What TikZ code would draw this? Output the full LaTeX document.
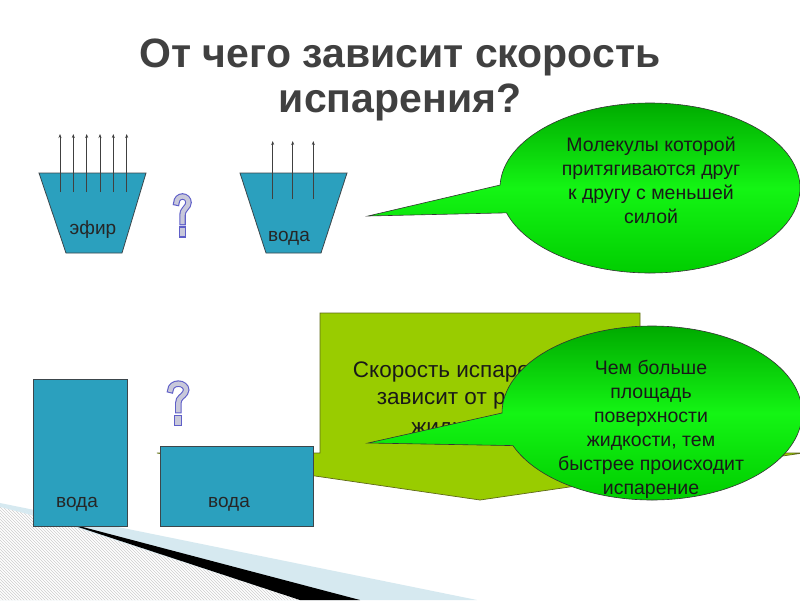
\documentclass[tikz,border=0pt]{standalone}
\usepackage{fontspec}
\setmainfont{Liberation Sans}
\usetikzlibrary{arrows.meta,patterns,calc}
\definecolor{water}{RGB}{43,160,190}
\definecolor{edge}{RGB}{60,70,75}
\definecolor{olivefill}{RGB}{153,204,0}
\definecolor{oliveedge}{RGB}{95,105,25}
\definecolor{gtop}{RGB}{0,170,0}
\definecolor{gmid}{RGB}{20,245,20}
\definecolor{gbot}{RGB}{0,205,0}
\definecolor{titlegray}{RGB}{64,64,64}
\definecolor{qgray}{RGB}{200,200,218}
\definecolor{qblue}{RGB}{95,95,200}
\definecolor{band}{RGB}{214,233,240}
\definecolor{hatchgray}{RGB}{205,205,205}
\tikzset{
  vessel/.style={fill=water, draw=edge, line width=0.8pt},
  vapor/.style={draw=black!75, line width=0.7pt, -{Stealth[length=4pt,width=3pt]}},
  vlabel/.style={font=\fontsize{19}{22}\selectfont, text=black!85},
  bubble/.style={top color=gtop, bottom color=gbot, middle color=gmid, draw=black!80, line width=0.6pt},
  bubbletext/.style={align=center, font=\fontsize{19.5}{24}\selectfont, text=black!90},
  titletext/.style={font=\fontsize{41}{46}\bfseries\selectfont, text=titlegray, anchor=base},
  speedtext/.style={font=\fontsize{22.5}{26}\selectfont, text=black!90, anchor=base},
  qmark/.pic={
    \draw[qblue, line width=6.5pt, line cap=rect]
      (3.5,-9.5) arc[start angle=180, end angle=-30, radius=6pt]
      .. controls (13,-16) and (9.5,-17) .. (9.5,-22) -- (9.5,-29);
    \draw[qgray, line width=4.3pt, line cap=rect]
      (3.5,-9.5) arc[start angle=180, end angle=-30, radius=6pt]
      .. controls (13,-16) and (9.5,-17) .. (9.5,-22) -- (9.5,-29);
    \filldraw[fill=qgray, draw=qblue, line width=1.1pt] (6.8,-34) rectangle (12.2,-44);
  }
}
\begin{document}
\begin{tikzpicture}[x=1pt,y=1pt]
\useasboundingbox (0,0) rectangle (800,-600);
\clip (0,0) rectangle (800,-600);
\fill[white] (0,0) rectangle (800,-600);

% decoration bottom-left
\fill[band] (0,-503) -- (477,-600) -- (0,-600) -- cycle;
\fill[white] (0,-507) -- (62,-523) -- (300,-600) -- (0,-600) -- cycle;
\fill[pattern=north west lines, pattern color=hatchgray] (0,-507) -- (62,-523) -- (300,-600) -- (0,-600) -- cycle;
\fill[black] (60,-521) -- (360,-600) -- (300,-600) -- cycle;

% title
\node[titletext] (title1) at (400,-67) {От чего зависит скорость};
\node[titletext] (title2) at (400,-112) {испарения?};

% ether vessel
\draw[vessel] (39,-173) -- (146,-173) -- (122,-253) -- (66,-253) -- cycle;
\foreach \x [count=\i] in {60,73.3,86.7,100,113.3,126.7} {
  \coordinate (eb\i) at (\x,-192);
  \coordinate (et\i) at (\x,-134);
  \draw[vapor] (eb\i) -- (et\i);
}
\node[vlabel] (ether) at (93,-230) {эфир};

% water vessel
\draw[vessel] (240,-173) -- (347,-173) -- (321,-253) -- (266,-253) -- cycle;
\foreach \x [count=\i] in {272.7,292.7,313.3} {
  \coordinate (wb\i) at (\x,-199);
  \coordinate (wt\i) at (\x,-141);
  \draw[vapor] (wb\i) -- (wt\i);
}
\node[vlabel] (water1) at (289,-238) {вода};

% question mark 1
\pic at (173,-193) {qmark};

% top callout
\coordinate (tc) at (650,-188);
\coordinate (ttip) at (368,-216);
\path[bubble] (ttip) -- ($(tc)+(178:150 and 85)$)
  arc[start angle=178, end angle=-163, x radius=150pt, y radius=85pt] -- cycle;
\node[bubbletext] (bubble1) at (651,-180) {Молекулы которой\\притягиваются друг\\к другу с меньшей\\силой};

% yellow-green arrow callout
\path[fill=olivefill, draw=oliveedge, line width=0.7pt]
  (320,-313) -- (640,-313) -- (640,-453) -- (803,-453) -- (480,-500) -- (157,-453) -- (320,-453) -- cycle;
\node[speedtext] (speed1) at (460,-377) {Скорость испарения};
\node[speedtext] (speed2) at (460,-404) {зависит от рода};
\node[speedtext] (speed3) at (460,-434) {жидкости};

% bottom callout
\coordinate (bc) at (652,-413);
\coordinate (btip) at (368,-443);
\path[bubble] (btip) -- ($(bc)+(180:150 and 87)$)
  arc[start angle=180, end angle=-158, x radius=150pt, y radius=87pt] -- cycle;
\node[bubbletext] (bubble2) at (651,-429) {Чем больше\\площадь\\поверхности\\жидкости, тем\\быстрее происходит\\испарение};

% bottom water containers
\draw[vessel] (33,-379) rectangle (127,-526);
\node[vlabel] (water2) at (77,-504) {вода};
\draw[vessel] (160,-446) rectangle (313,-526);
\node[vlabel] (water3) at (229,-504) {вода};

% question mark 2
\pic[xscale=1.3, yscale=1.04] at (166,-380) {qmark};
\end{tikzpicture}
\end{document}
